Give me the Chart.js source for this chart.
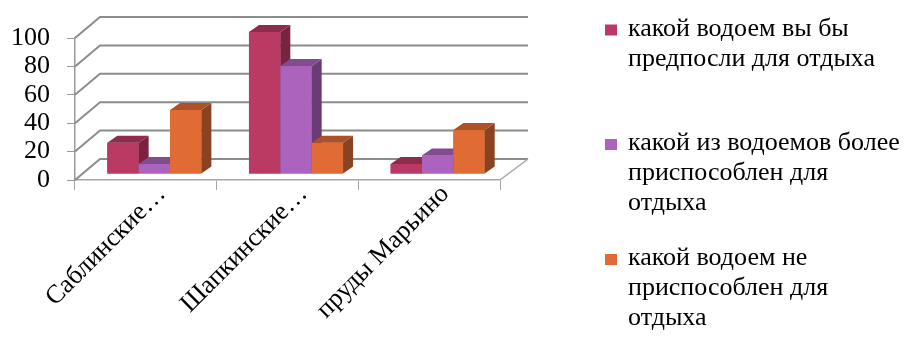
<!DOCTYPE html>
<html>
<head>
<meta charset="utf-8">
<script src="https://cdn.jsdelivr.net/npm/chart.js@4"></script>
<style>
    html, body { margin: 0; padding: 0; background: #fff; }
</style>
</head>
<body>
<canvas id="chart" width="906" height="342"></canvas>
<script>
const categories = ['Саблинские…', 'Шапкинские…', 'пруды Марьино'];
const seriesLines = [
    ['какой водоем вы бы', 'предпосли для отдыха'],
    ['какой из водоемов более', 'приспособлен для', 'отдыха'],
    ['какой водоем не', 'приспособлен для', 'отдыха']
];
const preferred = [22, 100, 7];
const moreSuitable = [7, 76, 13];
const notSuitable = [45, 22, 31];
const yTicks = [0, 20, 40, 60, 80, 100];

// front / side / top shades for each series
const shades = [
    { front: '#ba3a64', side: '#7b2241', top: '#8e2b4e' },
    { front: '#ac63be', side: '#6b3b78', top: '#824c91' },
    { front: '#e06b35', side: '#8b4220', top: '#ad5227' }
];

const FONT = 'Liberation Serif';

// 3d geometry
const WALL_DX_L = 25, WALL_DX_R = 28, WALL_DY = -21;
const BAR_SHIFT_X = 8.5, BAR_SHIFT_Y = -6;
const BAR_DX = 10, BAR_DY = -7;

// text placement
const Y_TICK_LEN = 8, Y_LABEL_PAD = 17;
const X_LABEL_DX = 16, X_LABEL_DY = 10;
const LEGEND_X = 605;
const LEGEND_BASELINES = [35.5, 150, 265];
const LEGEND_LINE = 30;

const box3d = {
    id: 'box3d',
    beforeDatasetsDraw(chart) {
        const { ctx, chartArea: a, scales: { y } } = chart;
        ctx.save();
        ctx.strokeStyle = '#8c8c8c';
        ctx.lineWidth = 2;
        yTicks.forEach(v => {
            const py = y.getPixelForValue(v);
            ctx.beginPath();
            ctx.moveTo(a.left, py);
            ctx.lineTo(a.left + WALL_DX_L, py + WALL_DY);
            ctx.lineTo(a.right + WALL_DX_R, py + WALL_DY);
            ctx.stroke();
        });
        // right edge of the floor
        ctx.strokeStyle = '#a6a6a6';
        ctx.lineWidth = 1.5;
        ctx.beginPath();
        ctx.moveTo(a.right, a.bottom);
        ctx.lineTo(a.right + WALL_DX_R, a.bottom + WALL_DY);
        ctx.stroke();
        ctx.restore();

        // bars sit a bit inside the box
        ctx.save();
        ctx.translate(BAR_SHIFT_X, BAR_SHIFT_Y);
    },
    afterDatasetsDraw(chart) {
        const { ctx } = chart;
        const metas = chart.data.datasets.map((d, i) => chart.getDatasetMeta(i));
        categories.forEach((c, j) => {
            metas.forEach((meta, i) => {
                const bar = meta.data[j];
                if (!bar) return;
                const { x, y, base, width } = bar.getProps(['x', 'y', 'base', 'width'], true);
                const l = x - width / 2, r = x + width / 2;
                const s = shades[i];
                ctx.fillStyle = s.front;
                ctx.fillRect(l, y, width, base - y);
                ctx.fillStyle = s.side;
                ctx.beginPath();
                ctx.moveTo(r, y);
                ctx.lineTo(r + BAR_DX, y + BAR_DY);
                ctx.lineTo(r + BAR_DX, base + BAR_DY);
                ctx.lineTo(r, base);
                ctx.closePath();
                ctx.fill();
                ctx.fillStyle = s.top;
                ctx.beginPath();
                ctx.moveTo(l, y);
                ctx.lineTo(l + BAR_DX, y + BAR_DY);
                ctx.lineTo(r + BAR_DX, y + BAR_DY);
                ctx.lineTo(r, y);
                ctx.closePath();
                ctx.fill();
            });
        });
        ctx.restore();
    }
};

const chart = new Chart(document.getElementById('chart'), {
    type: 'bar',
    data: {
        labels: categories,
        datasets: [
            { label: seriesLines[0].join(' '), data: preferred, backgroundColor: shades[0].front },
            { label: seriesLines[1].join(' '), data: moreSuitable, backgroundColor: shades[1].front },
            { label: seriesLines[2].join(' '), data: notSuitable, backgroundColor: shades[2].front }
        ]
    },
    options: {
        responsive: false,
        animation: false,
        events: [],
        layout: { padding: { top: 38, right: 406, bottom: 0, left: 0 } },
        datasets: { bar: { barPercentage: 1, categoryPercentage: 0.664, clip: false } },
        plugins: {
            legend: { display: false },
            tooltip: { enabled: false }
        },
        scales: {
            x: {
                grid: { drawOnChartArea: false, tickLength: 10, color: '#a6a6a6', offset: true },
                border: { color: '#a6a6a6', width: 1.5 },
                ticks: { display: false, autoSkip: false },
                afterFit(scale) { scale.height = 162; }
            },
            y: {
                min: 0,
                max: 100,
                grid: { drawOnChartArea: false, tickLength: Y_TICK_LEN, color: '#999' },
                border: { color: '#999', width: 1.5 },
                ticks: { display: false, stepSize: 20, autoSkip: false },
                afterFit(scale) { scale.width = 75; }
            }
        }
    },
    plugins: [box3d]
});

// axis labels and legend, placed from the chart's own scales once it is painted
function paintText(chart) {
    const { ctx, scales: { x, y } } = chart;
    ctx.fillStyle = '#000';
    ctx.font = '26px ' + FONT;

    ctx.textAlign = 'right';
    ctx.textBaseline = 'middle';
    yTicks.forEach(v => {
        ctx.fillText(String(v), y.right - Y_TICK_LEN - Y_LABEL_PAD, y.getPixelForValue(v));
    });

    categories.forEach((label, j) => {
        ctx.setTransform(1, 0, 0, 1, x.getPixelForTick(j) + X_LABEL_DX, x.top + X_LABEL_DY);
        ctx.rotate(-Math.PI / 4);
        ctx.fillText(label, 0, 0);
    });
    ctx.setTransform(1, 0, 0, 1, 0, 0);

    ctx.textAlign = 'left';
    ctx.textBaseline = 'alphabetic';
    chart.data.datasets.forEach((ds, i) => {
        const base = LEGEND_BASELINES[i];
        ctx.fillStyle = ds.backgroundColor;
        ctx.fillRect(LEGEND_X, base - 11, 12, 11);
        ctx.fillStyle = '#000';
        seriesLines[i].forEach((line, k) => {
            ctx.fillText(line, LEGEND_X + 23, base + k * LEGEND_LINE);
        });
    });
}

paintText(chart);
</script>
</body>
</html>
